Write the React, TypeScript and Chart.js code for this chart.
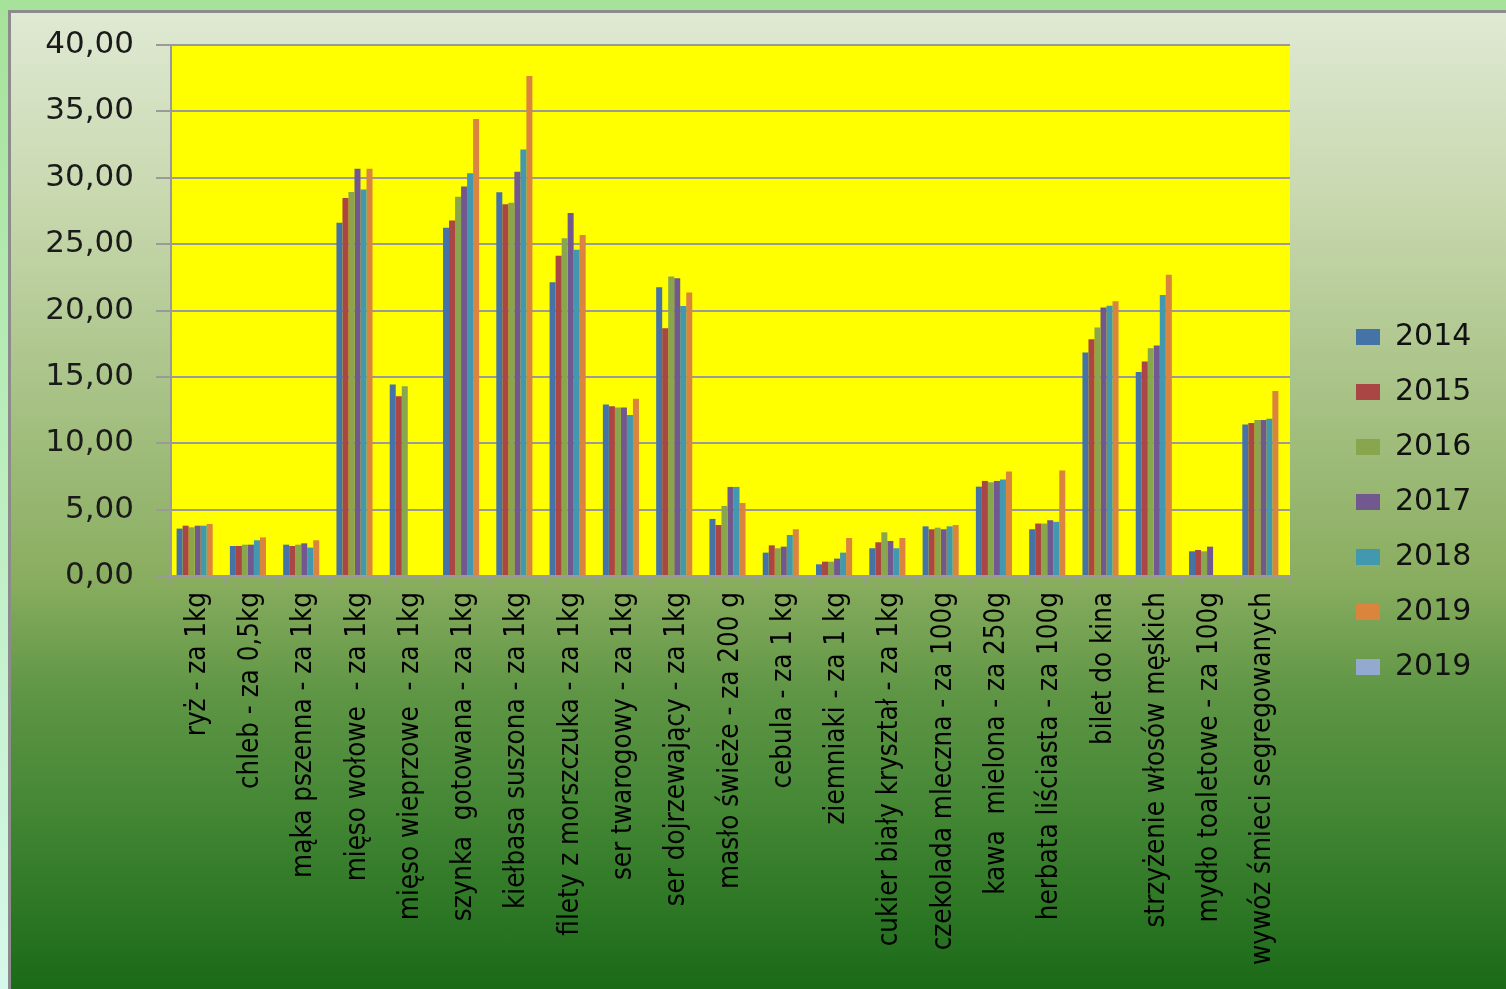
import { useEffect, useRef } from "react";
import { Chart, registerables } from "chart.js";

Chart.register(...registerables);

const categories = [
  "ryż - za 1kg",
  "chleb - za 0,5kg",
  "mąka pszenna - za 1kg",
  "mięso wołowe  - za 1kg",
  "mięso wieprzowe  - za 1kg",
  "szynka  gotowana - za 1kg",
  "kiełbasa suszona - za 1kg",
  "filety z morszczuka - za 1kg",
  "ser twarogowy - za 1kg",
  "ser dojrzewający - za 1kg",
  "masło świeże - za 200 g",
  "cebula - za 1 kg",
  "ziemniaki - za 1 kg",
  "cukier biały kryształ - za 1kg",
  "czekolada mleczna - za 100g",
  "kawa  mielona - za 250g",
  "herbata liściasta - za 100g",
  "bilet do kina",
  "strzyżenie włosów męskich",
  "mydło toaletowe - za 100g",
  "wywóz śmieci segregowanych",
];

const seriesNames = ["2014", "2015", "2016", "2017", "2018", "2019", "2019"];

const v2014 = [3.57, 2.26, 2.36, 26.61, 14.42, 26.24, 28.9, 22.12, 12.92, 21.76, 4.3, 1.76, 0.88, 2.09, 3.74, 6.73, 3.52, 16.83, 15.37, 1.86, 11.42];
const v2015 = [3.79, 2.26, 2.26, 28.47, 13.54, 26.78, 28.0, 24.12, 12.79, 18.67, 3.84, 2.31, 1.08, 2.54, 3.52, 7.16, 3.95, 17.84, 16.15, 1.96, 11.52];
const v2016 = [3.67, 2.36, 2.36, 28.92, 14.3, 28.57, 28.11, 25.45, 12.69, 22.56, 5.28, 2.09, 1.08, 3.29, 3.64, 7.06, 3.95, 18.72, 17.16, 1.86, 11.75];
const v2017 = [3.79, 2.36, 2.46, 30.68, null, 29.34, 30.46, 27.34, 12.69, 22.43, 6.71, 2.21, 1.31, 2.64, 3.52, 7.16, 4.2, 20.23, 17.36, 2.21, 11.75];
const v2018 = [3.79, 2.69, 2.14, 29.12, null, 30.33, 32.12, 24.58, 12.12, 20.33, 6.71, 3.09, 1.76, 2.09, 3.74, 7.27, 4.08, 20.35, 21.16, null, 11.85];
const v2019 = [3.92, 2.91, 2.69, 30.68, null, 34.42, 37.67, 25.68, 13.35, 21.36, 5.5, 3.52, 2.86, 2.86, 3.84, 7.87, 7.95, 20.7, 22.69, null, 13.94];
const v2019b: (number | null)[] = categories.map(() => null);

const seriesValues = [v2014, v2015, v2016, v2017, v2018, v2019, v2019b];
const seriesColors = ["#4572A7", "#AA4643", "#89A54E", "#71588F", "#4198AF", "#DB843D", "#93A9CF"];

const yMin = 0;
const yMax = 40;
const yStep = 5;

const GRID = "#9a9a9a";

const plotBackground = {
  id: "plotBackground",
  beforeDraw(chart: any) {
    const { ctx, chartArea } = chart;
    if (!chartArea) return;
    ctx.save();
    ctx.fillStyle = "#ffff00";
    ctx.fillRect(chartArea.left, chartArea.top, chartArea.right - chartArea.left, chartArea.bottom - chartArea.top);
    ctx.restore();
  },
};

export default function App() {
  const canvasRef = useRef<HTMLCanvasElement | null>(null);

  useEffect(() => {
    if (!canvasRef.current) return;
    const chart = new Chart(canvasRef.current, {
      type: "bar",
      data: {
        labels: categories,
        datasets: seriesNames.map((name, i) => ({
          label: name,
          data: seriesValues[i],
          backgroundColor: seriesColors[i],
          borderWidth: 0,
          categoryPercentage: 0.79,
          barPercentage: 1.0,
          xAxisID: "x",
          yAxisID: "y",
        })),
      },
      plugins: [plotBackground],
      options: {
        animation: false,
        responsive: false,
        devicePixelRatio: 1,
        layout: { padding: { top: 15, bottom: 0, left: 0, right: 35 } },
        plugins: {
          tooltip: { enabled: false },
          title: { display: false },
          legend: {
            display: true,
            position: "right",
            align: "center",
            maxWidth: 140,
            labels: {
              boxWidth: 24,
              boxHeight: 16,
              padding: 25,
              color: "#111111",
              font: { family: "'DejaVu Sans', Verdana, sans-serif", size: 30 },
            },
          },
        },
        scales: {
          x: {
            position: "bottom",
            grid: {
              display: true,
              drawOnChartArea: false,
              drawTicks: true,
              tickLength: 8,
              color: GRID,
              lineWidth: 2,
              offset: true,
            },
            border: { display: true, color: GRID, width: 2 },
            ticks: {
              autoSkip: false,
              minRotation: 90,
              maxRotation: 90,
              padding: 8,
              color: "#000000",
              font: { family: "'DejaVu Sans Condensed', 'Liberation Sans', sans-serif", size: 27.5 },
            },
            afterFit(scale: any) {
              scale.height = 413;
            },
          },
          topGap: {
            type: "linear",
            axis: "x",
            position: "top",
            display: true,
            grid: { display: false, drawTicks: false },
            border: { display: false },
            ticks: { display: false },
            afterFit(scale: any) {
              scale.height = 30;
            },
          },
          y: {
            position: "left",
            min: yMin,
            max: yMax,
            ticks: {
              stepSize: yStep,
              padding: 22,
              color: "#1a1a1a",
              font: { family: "'DejaVu Sans', Verdana, sans-serif", size: 31 },
              callback: (v: any) => Number(v).toFixed(2).replace(".", ","),
            },
            grid: { color: GRID, lineWidth: 2, tickLength: 15, drawTicks: true },
            border: { display: true, color: GRID, width: 2 },
            afterFit(scale: any) {
              scale.width = 171;
            },
          },
          gap: {
            type: "linear",
            axis: "y",
            position: "right",
            display: true,
            grid: { display: false, drawTicks: false },
            border: { display: false },
            ticks: { display: false },
            afterFit(scale: any) {
              scale.width = 41;
            },
          },
        },
      },
    } as any);
    return () => chart.destroy();
  }, []);

  return (
    <div
      style={{
        position: "fixed",
        left: 0,
        top: 0,
        width: 1506,
        height: 989,
        overflow: "hidden",
        background: "linear-gradient(to bottom, #a6e29a 0%, #b8ecb8 40%, #d6f8ea 100%)",
      }}
    >
      <div
        style={{
          position: "absolute",
          left: 8,
          top: 10,
          width: 1520,
          height: 1000,
          boxSizing: "border-box",
          borderLeft: "3px solid #8c8c8c",
          borderTop: "3px solid #8c8c8c",
          background:
            "linear-gradient(to bottom, #dfe9d3 0%, #c8d8ae 19%, #89ad5f 57%, #5f9645 68%, #468836 79%, #1a6a18 98%)",
        }}
      />
      <canvas
        ref={canvasRef}
        width={1506}
        height={989}
        style={{ position: "absolute", left: 0, top: 0, width: 1506, height: 989, display: "block" }}
      />
    </div>
  );
}
